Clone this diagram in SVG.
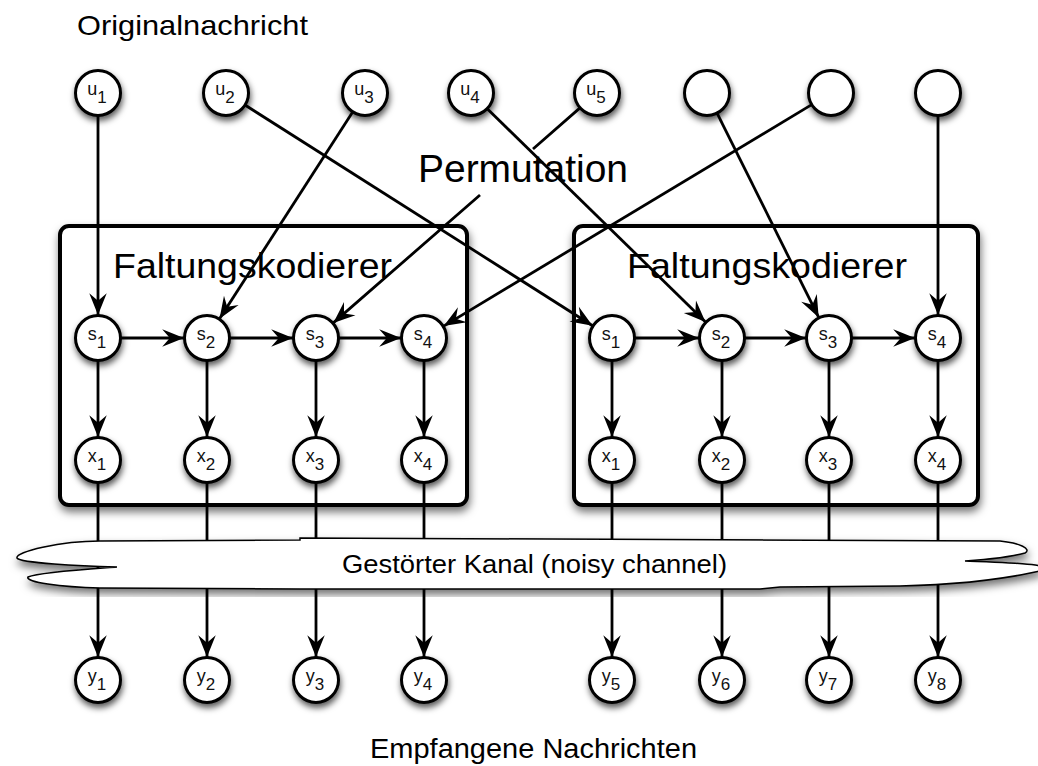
<svg xmlns="http://www.w3.org/2000/svg" width="1038" height="766" viewBox="0 0 1038 766">
<defs>
<filter id="sh" x="-30%" y="-30%" width="160%" height="170%">
<feDropShadow dx="1" dy="4" stdDeviation="3" flood-color="#000" flood-opacity="0.65"/>
</filter>
<filter id="shb" x="-10%" y="-10%" width="120%" height="125%">
<feDropShadow dx="1" dy="5" stdDeviation="4" flood-color="#000" flood-opacity="0.55"/>
</filter>
<marker id="ah" markerUnits="userSpaceOnUse" markerWidth="24" markerHeight="20" viewBox="-21 -9 22 18" refX="0" refY="0" orient="auto">
<path d="M0,0 L-20,-8 L-13,0 L-20,8 Z" fill="#000"/>
</marker>
</defs>
<style>
.n{fill:#fff;stroke:#000;stroke-width:3;filter:url(#sh)}
.lb{font-family:"Liberation Sans",Arial,sans-serif;font-size:18px;fill:#111;text-anchor:middle}
.lb tspan{font-size:17px}
.e{fill:none;stroke:#000;stroke-width:2.8;marker-end:url(#ah)}
.box{fill:#fff;stroke:#000;stroke-width:4;filter:url(#shb)}
.t{font-family:"Liberation Sans",Arial,sans-serif;fill:#000}
</style>
<rect width="1038" height="766" fill="#fff"/>

<g id="encoder1"><rect class="box" x="60" y="226" width="407" height="279" rx="9"/>
<text class="t" x="113" y="278" font-size="35" textLength="279" lengthAdjust="spacingAndGlyphs">Faltungskodierer</text></g>
<g id="encoder2"><rect class="box" x="574" y="226" width="404" height="279" rx="9"/>
<text class="t" x="627" y="278" font-size="35" textLength="280" lengthAdjust="spacingAndGlyphs">Faltungskodierer</text></g>

<g id="connectors">
<path class="e" d="M98,116 L98,315"/>
<path class="e" d="M245.4,105.3 L592.6,325.7"/>
<path class="e" d="M352.5,112.3 L219.5,318.7"/>
<path class="e" d="M579.7,108.1 L533,149 M480,195 L333.3,322.9"/>
<path class="e" d="M717.3,113.6 L818.7,317.4"/>
<path class="e" d="M811.3,104.9 L443.7,326.1"/>
<path class="e" d="M938,116 L938,315"/>
<path class="e" d="M121,338 L184,338"/>
<path class="e" d="M230,338 L293,338"/>
<path class="e" d="M339,338 L401,338"/>
<path class="e" d="M635,338 L699,338"/>
<path class="e" d="M745,338 L806,338"/>
<path class="e" d="M852,338 L915,338"/>
<path class="e" d="M98,361 L98,437"/>
<path class="e" d="M207,361 L207,437"/>
<path class="e" d="M316,361 L316,437"/>
<path class="e" d="M424,361 L424,437"/>
<path class="e" d="M612,361 L612,437"/>
<path class="e" d="M722,361 L722,437"/>
<path class="e" d="M829,361 L829,437"/>
<path class="e" d="M938,361 L938,437"/>
<path class="e" d="M98,483 L98,657"/>
<path class="e" d="M207,483 L207,657"/>
<path class="e" d="M316,483 L316,657"/>
<path class="e" d="M424,483 L424,657"/>
<path class="e" d="M612,483 L612,657"/>
<path class="e" d="M722,483 L722,657"/>
<path class="e" d="M829,483 L829,657"/>
<path class="e" d="M938,483 L938,657"/>
</g>

<g id="permutation-label"><text class="t" x="418" y="182" font-size="38" textLength="210" lengthAdjust="spacingAndGlyphs">Permutation</text></g>
<path d="M487.5,109 L705.5,321.9" class="e"/>

<g id="channel">
<path d="M300,538 L1000,541 C1020,543 1032,549 1025,553 C1010,557 980,560 965,561 C990,562 1030,563 1040,566 L1040,571 C1000,580 950,585 900,586 L780,587 L760,589 L300,589 L100,588 C60,587 25,582 28,577 C40,572 90,569 117,567 C80,566 20,563 17,558 C15,552 60,541 100,541 L300,540 Z" fill="#fff" stroke="#000" stroke-width="1.5" filter="url(#shb)"/>
<text class="t" x="342" y="573" font-size="25" textLength="385" lengthAdjust="spacingAndGlyphs">Gestörter Kanal (noisy channel)</text>
</g>

<g id="u1"><circle class="n" cx="98" cy="93" r="22.5"/><text class="lb" x="97" y="95">u<tspan dy="8">1</tspan></text></g>
<g id="u2"><circle class="n" cx="226" cy="93" r="22.5"/><text class="lb" x="225" y="95">u<tspan dy="8">2</tspan></text></g>
<g id="u3"><circle class="n" cx="365" cy="93" r="22.5"/><text class="lb" x="364" y="95">u<tspan dy="8">3</tspan></text></g>
<g id="u4"><circle class="n" cx="471" cy="93" r="22.5"/><text class="lb" x="470" y="95">u<tspan dy="8">4</tspan></text></g>
<g id="u5"><circle class="n" cx="597" cy="93" r="22.5"/><text class="lb" x="596" y="95">u<tspan dy="8">5</tspan></text></g>
<g id="u6"><circle class="n" cx="707" cy="93" r="22.5"/></g>
<g id="u7"><circle class="n" cx="831" cy="93" r="22.5"/></g>
<g id="u8"><circle class="n" cx="938" cy="93" r="22.5"/></g>

<g id="s1a"><circle class="n" cx="98" cy="338" r="22.5"/><text class="lb" x="97" y="340">s<tspan dy="8">1</tspan></text></g>
<g id="s2a"><circle class="n" cx="207" cy="338" r="22.5"/><text class="lb" x="206" y="340">s<tspan dy="8">2</tspan></text></g>
<g id="s3a"><circle class="n" cx="316" cy="338" r="22.5"/><text class="lb" x="315" y="340">s<tspan dy="8">3</tspan></text></g>
<g id="s4a"><circle class="n" cx="424" cy="338" r="22.5"/><text class="lb" x="423" y="340">s<tspan dy="8">4</tspan></text></g>
<g id="s1b"><circle class="n" cx="612" cy="338" r="22.5"/><text class="lb" x="611" y="340">s<tspan dy="8">1</tspan></text></g>
<g id="s2b"><circle class="n" cx="722" cy="338" r="22.5"/><text class="lb" x="721" y="340">s<tspan dy="8">2</tspan></text></g>
<g id="s3b"><circle class="n" cx="829" cy="338" r="22.5"/><text class="lb" x="828" y="340">s<tspan dy="8">3</tspan></text></g>
<g id="s4b"><circle class="n" cx="938" cy="338" r="22.5"/><text class="lb" x="937" y="340">s<tspan dy="8">4</tspan></text></g>

<g id="x1a"><circle class="n" cx="98" cy="460" r="22.5"/><text class="lb" x="97" y="462">x<tspan dy="8">1</tspan></text></g>
<g id="x2a"><circle class="n" cx="207" cy="460" r="22.5"/><text class="lb" x="206" y="462">x<tspan dy="8">2</tspan></text></g>
<g id="x3a"><circle class="n" cx="316" cy="460" r="22.5"/><text class="lb" x="315" y="462">x<tspan dy="8">3</tspan></text></g>
<g id="x4a"><circle class="n" cx="424" cy="460" r="22.5"/><text class="lb" x="423" y="462">x<tspan dy="8">4</tspan></text></g>
<g id="x1b"><circle class="n" cx="612" cy="460" r="22.5"/><text class="lb" x="611" y="462">x<tspan dy="8">1</tspan></text></g>
<g id="x2b"><circle class="n" cx="722" cy="460" r="22.5"/><text class="lb" x="721" y="462">x<tspan dy="8">2</tspan></text></g>
<g id="x3b"><circle class="n" cx="829" cy="460" r="22.5"/><text class="lb" x="828" y="462">x<tspan dy="8">3</tspan></text></g>
<g id="x4b"><circle class="n" cx="938" cy="460" r="22.5"/><text class="lb" x="937" y="462">x<tspan dy="8">4</tspan></text></g>

<g id="y1"><circle class="n" cx="98" cy="680" r="22.5"/><text class="lb" x="97" y="682">y<tspan dy="8">1</tspan></text></g>
<g id="y2"><circle class="n" cx="207" cy="680" r="22.5"/><text class="lb" x="206" y="682">y<tspan dy="8">2</tspan></text></g>
<g id="y3"><circle class="n" cx="316" cy="680" r="22.5"/><text class="lb" x="315" y="682">y<tspan dy="8">3</tspan></text></g>
<g id="y4"><circle class="n" cx="424" cy="680" r="22.5"/><text class="lb" x="423" y="682">y<tspan dy="8">4</tspan></text></g>
<g id="y5"><circle class="n" cx="612" cy="680" r="22.5"/><text class="lb" x="611" y="682">y<tspan dy="8">5</tspan></text></g>
<g id="y6"><circle class="n" cx="722" cy="680" r="22.5"/><text class="lb" x="721" y="682">y<tspan dy="8">6</tspan></text></g>
<g id="y7"><circle class="n" cx="829" cy="680" r="22.5"/><text class="lb" x="828" y="682">y<tspan dy="8">7</tspan></text></g>
<g id="y8"><circle class="n" cx="938" cy="680" r="22.5"/><text class="lb" x="937" y="682">y<tspan dy="8">8</tspan></text></g>

<g id="titles">
<text class="t" x="77" y="35" font-size="28" textLength="231" lengthAdjust="spacingAndGlyphs">Originalnachricht</text>
<text class="t" x="370" y="758" font-size="27" textLength="327" lengthAdjust="spacingAndGlyphs">Empfangene Nachrichten</text>
</g>
</svg>
